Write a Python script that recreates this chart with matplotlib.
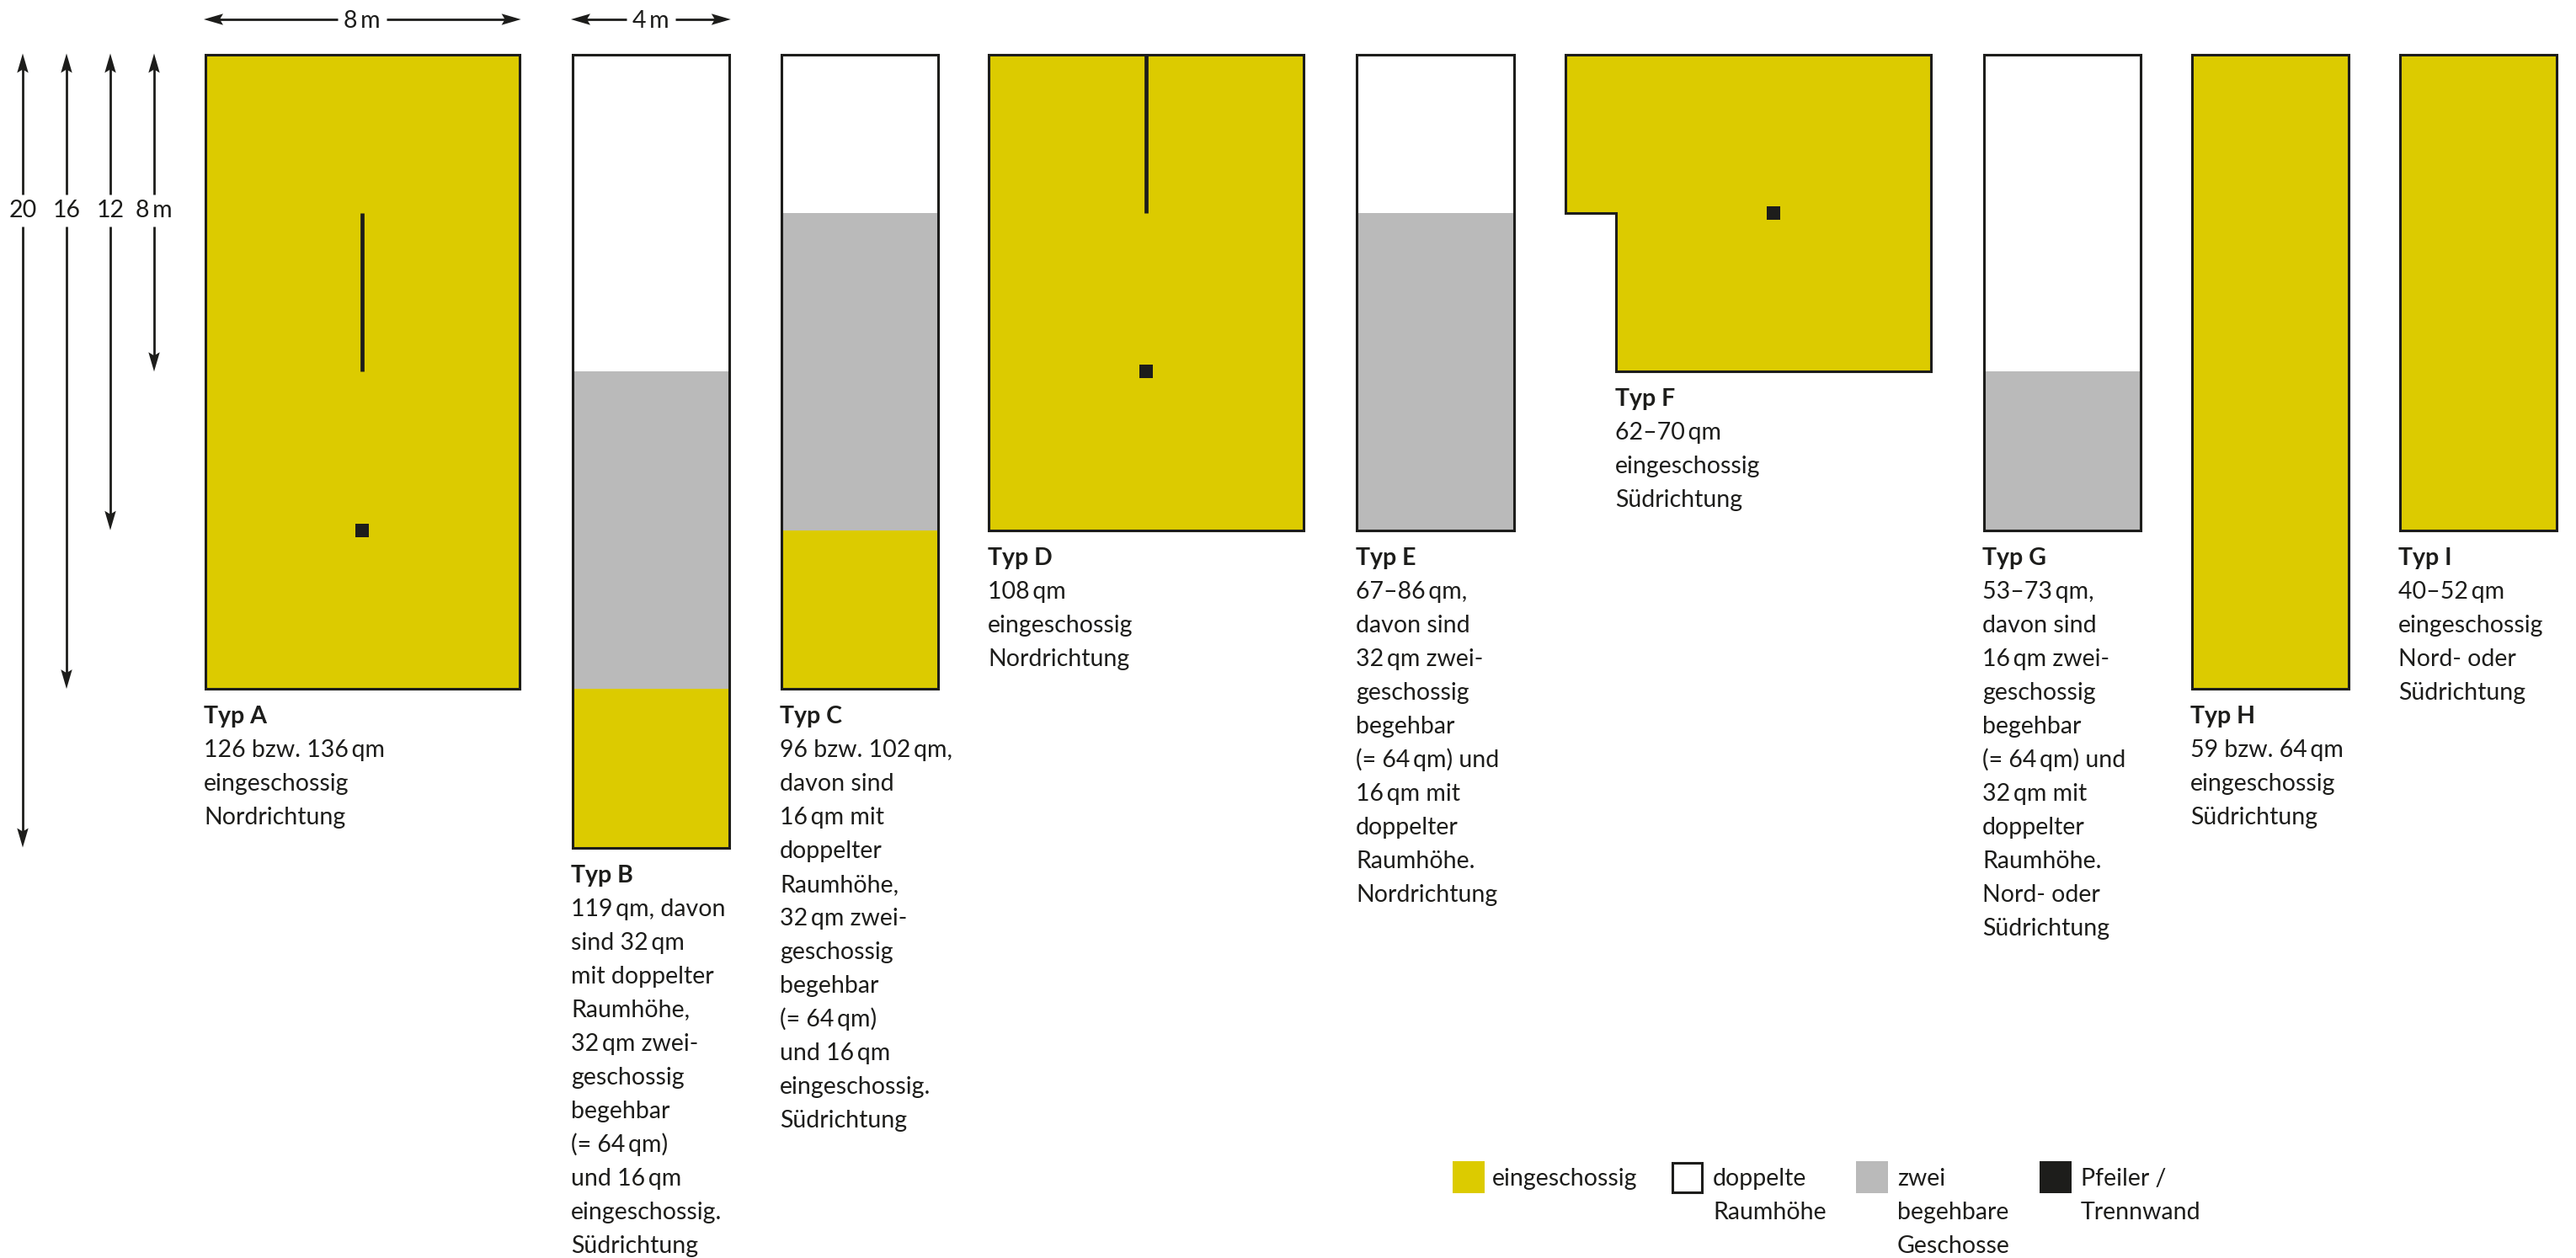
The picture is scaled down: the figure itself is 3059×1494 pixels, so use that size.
import matplotlib
matplotlib.use("Agg")
import matplotlib.pyplot as plt
from matplotlib.patches import Polygon, Rectangle

WIDTH, HEIGHT = 3059, 1494
MX = 46.7  # pixels per metre, across
MY = 47.1  # pixels per metre, down

YELLOW = "#DCCB00"
GREY = "#BABABA"
DARK = "#1D1D1B"

### Data, all in metres ###
room_names = ["Typ A", "Typ B", "Typ C", "Typ D", "Typ E", "Typ F", "Typ G", "Typ H", "Typ I"]
room_widths = [8, 4, 4, 8, 4, 9.3, 4, 4, 4]
double_height = [0, 8, 4, 0, 4, 0, 8, 0, 0]
two_storey = [0, 8, 8, 0, 8, 0, 4, 0, 0]
single_storey = [16, 4, 4, 12, 0, 8, 0, 16, 12]
walls = {"Typ A": (4, 4, 8), "Typ D": (4, 0, 4)}
pillars = {"Typ A": (4, 12), "Typ D": (4, 8), "Typ F": (5.3, 4)}
notch_f = (1.3, 4)
height_marks = [20, 16, 12, 8]
height_labels = ["20", "16", "12", "8\u2009m"]
width_marks = [8, 4]
width_labels = ["8\u2009m", "4\u2009m"]

room_texts = [
    ["126 bzw. 136\u2009qm", "eingeschossig", "Nordrichtung"],
    ["119\u2009qm, davon", "sind 32\u2009qm", "mit doppelter", "Raumhöhe,", "32\u2009qm zwei-", "geschossig",
     "begehbar", "(= 64\u2009qm)", "und 16\u2009qm", "eingeschossig.", "Südrichtung"],
    ["96 bzw. 102\u2009qm,", "davon sind", "16\u2009qm mit", "doppelter", "Raumhöhe,", "32\u2009qm zwei-",
     "geschossig", "begehbar", "(= 64\u2009qm)", "und 16\u2009qm", "eingeschossig.", "Südrichtung"],
    ["108\u2009qm", "eingeschossig", "Nordrichtung"],
    ["67–86\u2009qm,", "davon sind", "32\u2009qm zwei-", "geschossig", "begehbar", "(= 64\u2009qm) und",
     "16\u2009qm mit", "doppelter", "Raumhöhe.", "Nordrichtung"],
    ["62–70\u2009qm", "eingeschossig", "Südrichtung"],
    ["53–73\u2009qm,", "davon sind", "16\u2009qm zwei-", "geschossig", "begehbar", "(= 64\u2009qm) und",
     "32\u2009qm mit", "doppelter", "Raumhöhe.", "Nord- oder", "Südrichtung"],
    ["59 bzw. 64\u2009qm", "eingeschossig", "Südrichtung"],
    ["40–52\u2009qm", "eingeschossig", "Nord- oder", "Südrichtung"],
]

legend_labels = [["eingeschossig"], ["doppelte", "Raumhöhe"], ["zwei", "begehbare", "Geschosse"], ["Pfeiler /", "Trennwand"]]
legend_colors = [YELLOW, "white", GREY, DARK]

### Layout, in pixels ###
room_left = [243.5, 679.5, 927.5, 1174, 1611, 1858.5, 2355.5, 2602.5, 2849.5]
text_left = [242, 678, 926, 1173, 1610, 1918, 2354, 2601, 2848]
top = 64.5
mark_x = [27, 79, 131, 183]
width_left = [242, 678]
legend_x = [1725, 1984, 2204, 2422]
legend_text_x = [1772, 2034, 2253, 2471]
FONT = "Lato"
FS = 20.5
LINE = 40


def xm(v):
    return v / MX


def ym(v):
    return v / MY


def add_text(ax, x, y, s, **kw):
    ax.text(xm(x), ym(y), s, family=FONT, fontsize=FS, color=DARK, ha=kw.pop("ha", "left"), va="baseline", **kw)


def arrow(ax, x0, y0, x1, y1):
    # shaft and a notched head, from (x0, y0) to the tip at (x1, y1), pixels
    dx = (x1 > x0) - (x1 < x0)
    dy = (y1 > y0) - (y1 < y0)
    ax.plot([xm(x0), xm(x1 - dx * 12)], [ym(y0), ym(y1 - dy * 12)], color=DARK, lw=2.0, solid_capstyle="butt")
    head = [(x1, y1),
            (x1 - dx * 23 + dy * 6.7, y1 - dy * 23 + dx * 6.7),
            (x1 - dx * 19, y1 - dy * 19),
            (x1 - dx * 23 - dy * 6.7, y1 - dy * 23 - dx * 6.7)]
    ax.add_patch(Polygon([(xm(a), ym(b)) for a, b in head], closed=True, fc=DARK, ec="none", zorder=3))


fig = plt.figure(figsize=(WIDTH / 100, HEIGHT / 100), dpi=100, facecolor="white")
ax = fig.add_axes([0, 0, 1, 1])
ax.set_xlim(0, WIDTH / MX)
ax.set_ylim(HEIGHT / MY, 0)
ax.axis("off")

y0 = ym(top)
for i, name in enumerate(room_names):
    x = xm(room_left[i])
    w = room_widths[i]
    depth = double_height[i] + two_storey[i] + single_storey[i]

    if name == "Typ F":
        nx, ny = notch_f
        outline = [(x, y0), (x + w, y0), (x + w, y0 + depth), (x + nx, y0 + depth), (x + nx, y0 + ny), (x, y0 + ny)]
        ax.add_patch(Polygon(outline, closed=True, fc=YELLOW, ec=DARK, lw=2.2, joinstyle="miter"))
    else:
        ax.bar(x, double_height[i], w, bottom=y0, align="edge", color="white", lw=0)
        ax.bar(x, two_storey[i], w, bottom=y0 + double_height[i], align="edge", color=GREY, lw=0)
        ax.bar(x, single_storey[i], w, bottom=y0 + double_height[i] + two_storey[i], align="edge", color=YELLOW, lw=0)
        ax.add_patch(Rectangle((x, y0), w, depth, fc="none", ec=DARK, lw=2.2, joinstyle="miter", zorder=2))

    if name in walls:
        wx, w0, w1 = walls[name]
        ax.plot([x + wx, x + wx], [y0 + w0, y0 + w1], color=DARK, lw=3.4, solid_capstyle="butt", zorder=3)
    if name in pillars:
        # square pillar of 15 px
        ax.plot(x + pillars[name][0], y0 + pillars[name][1], marker="s", ms=16 * 0.72, color=DARK, mew=0, zorder=3)

    base = top + depth * MY + 41
    add_text(ax, text_left[i], base, name, fontweight="bold")
    for j, line in enumerate(room_texts[i]):
        add_text(ax, text_left[i], base + (j + 1) * LINE, line)

# height scale on the left
for x, h, label in zip(mark_x, height_marks, height_labels):
    arrow(ax, x, 231, x, top - 1)
    arrow(ax, x, 269, x, top + h * MY)
    add_text(ax, x, 258, label, ha="center")

# width scale on top
for x, w, label in zip(width_left, width_marks, width_labels):
    span = w * MX + 3
    c = x + span / 2
    half = 29
    arrow(ax, c - half, 23, x, 23)
    arrow(ax, c + half, 23, x + span, 23)
    add_text(ax, c, 33, label, ha="center")

# legend
for x, tx, col, lines in zip(legend_x, legend_text_x, legend_colors, legend_labels):
    inset = 1.5 if col == "white" else 0
    ax.add_patch(Rectangle((xm(x + inset), ym(1379 + inset)), xm(38 - 2 * inset), ym(38 - 2 * inset),
                           fc=col, ec=DARK if col == "white" else "none", lw=2.2))
    for j, line in enumerate(lines):
        add_text(ax, tx, 1408 + j * LINE, line)

fig.savefig("out.png", dpi=100, facecolor="white")
